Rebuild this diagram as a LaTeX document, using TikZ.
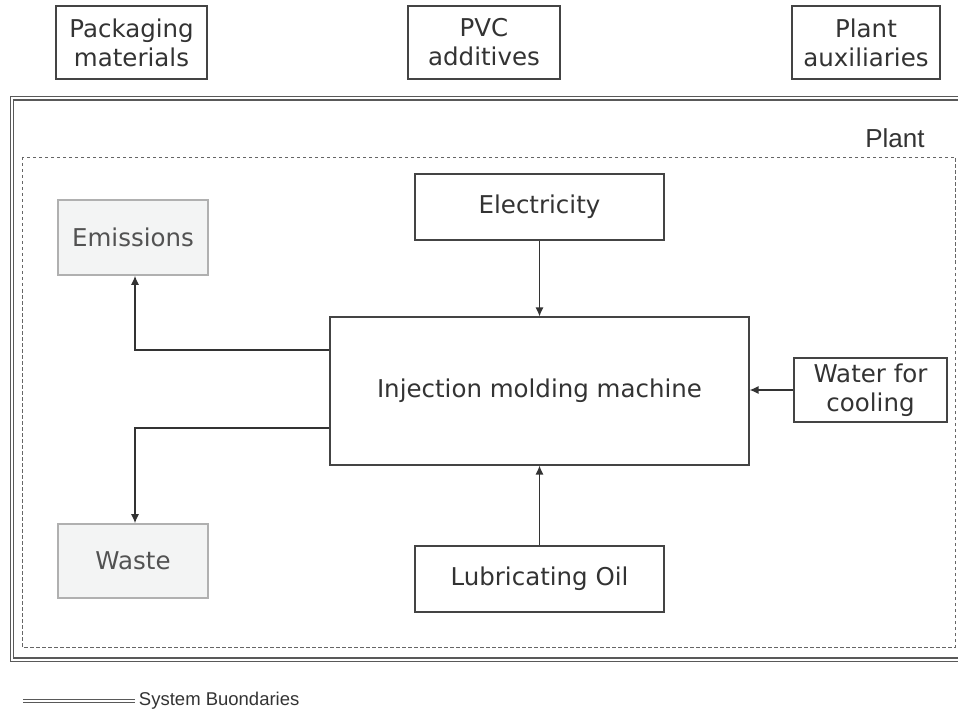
\documentclass[tikz,border=0pt]{standalone}
\usepackage{fontspec}
\setmainfont{DejaVu Sans}
\newfontfamily\arialfont{Liberation Sans}
\usepackage{xcolor}
\usepackage{tikz}
\usetikzlibrary{arrows.meta}

\definecolor{boxline}{HTML}{444444}
\definecolor{txtgray}{HTML}{333333}
\definecolor{outfill}{HTML}{F3F4F4}
\definecolor{outline}{HTML}{B0B0B0}

\tikzset{
  flowbox/.style={draw=boxline, line width=1.1pt, text=txtgray, align=center,
    font=\fontsize{24.5}{29}\selectfont, inner sep=0pt},
  outbox/.style={flowbox, draw=outline, line width=1.6pt, fill=outfill, text=black!68},
  flow/.style={-{Latex[length=9pt,width=8pt]}, line width=1.2pt, draw=black!80},
  boundary/.style={double=white, draw=black!65, line width=1.3pt, double distance=2pt}
}

\begin{document}
\begin{tikzpicture}[x=1pt,y=-1pt]
		\useasboundingbox (0,0) rectangle (958,711);

		% Inputs from outside
		\node[flowbox, minimum width=151pt, minimum height=73pt] (pack) at (131.5,42.5) {Packaging\\materials};
		\node[flowbox, minimum width=152pt, minimum height=73pt] (pvc) at (484,42.5) {PVC\\additives};
		\node[flowbox, minimum width=148pt, minimum height=73pt] (aux) at (866,42.5) {Plant\\auxiliaries};

		% System boundaries
		\draw[boundary] (958,98.5) -- (12,98.5) -- (12,659.5) -- (958,659.5);

		% Plant
		\draw[draw=black!60, line width=0.9pt, dash pattern=on 3.5pt off 2.5pt] (22,157) rectangle (955,647);
		\node[font=\arialfont\fontsize{26}{30}\selectfont, text=txtgray] (plant) at (895,138) {Plant};

		% Process
		\node[flowbox, minimum width=419pt, minimum height=148pt] (imm) at (539.5,391) {Injection molding machine};
		\node[flowbox, minimum width=249pt, minimum height=66pt] (elec) at (539.5,207) {Electricity};
		\node[flowbox, minimum width=249pt, minimum height=66pt] (oil) at (539.5,579) {Lubricating Oil};
		\node[flowbox, minimum width=153pt, minimum height=64pt] (water) at (870.5,390) {Water for\\cooling};

		% Outputs
		\node[outbox, minimum width=150pt, minimum height=75pt] (emis) at (133,237.5) {Emissions};
		\node[outbox, minimum width=150pt, minimum height=74pt] (waste) at (133,561) {Waste};

		% Flows
		\draw[flow] (elec) -- (imm);
		\draw[flow] (oil) -- (imm);
		\draw[flow] (water) -- (water -| imm.east);
		\draw[flow] ([yshift=41pt]imm.west) -| ([xshift=2pt]emis.south);
		\draw[flow] ([yshift=-37pt]imm.west) -| ([xshift=2pt]waste.north);

		% Legend
		\coordinate (leg) at (23,701);
		\draw[boundary] (leg) -- ++(112,0) node[right, text=txtgray, font=\arialfont\fontsize{18.5}{22}\selectfont] (legtxt) {System Buondaries};
	\end{tikzpicture}
\end{document}
